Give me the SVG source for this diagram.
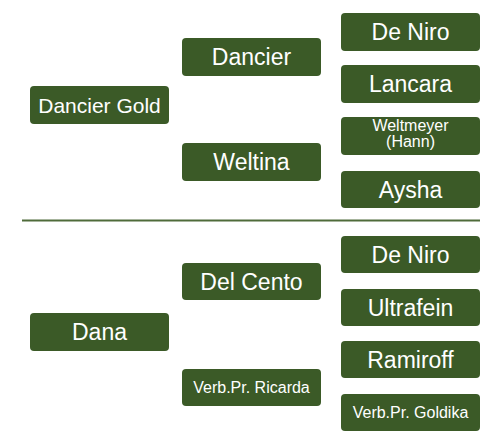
<svg xmlns="http://www.w3.org/2000/svg" width="493" height="443" viewBox="0 0 493 443">
<style>
.box{fill:#3B5A27}
text{font-family:"Liberation Sans",Arial,sans-serif;fill:#ffffff;text-anchor:middle}
.big{font-size:23px}
.mid{font-size:21px}
.sm{font-size:16px}
.sep{stroke:#4F6B3A;stroke-width:2;fill:none}
</style>
<rect width="493" height="443" fill="#ffffff"/>
<g id="connectors">
<line class="sep" x1="22" y1="220.5" x2="480" y2="220.5"/>
</g>
<g id="dancier-gold"><rect class="box" x="30" y="86" width="139" height="38" rx="4"/><text class="mid" x="99.5" y="112.5">Dancier Gold</text></g>
<g id="dancier"><rect class="box" x="182" y="38" width="139" height="38" rx="4"/><text class="big" x="251.5" y="65">Dancier</text></g>
<g id="weltina"><rect class="box" x="182" y="143" width="139" height="38" rx="4"/><text class="big" x="251.5" y="170">Weltina</text></g>
<g id="de-niro-1"><rect class="box" x="341" y="13" width="139" height="38" rx="4"/><text class="big" x="410.5" y="40">De Niro</text></g>
<g id="lancara"><rect class="box" x="341" y="65" width="139" height="38" rx="4"/><text class="big" x="410.5" y="92">Lancara</text></g>
<g id="weltmeyer"><rect class="box" x="341" y="117" width="139" height="38" rx="4"/><text class="sm" x="410.5" y="131">Weltmeyer</text><text class="sm" x="410.5" y="147">(Hann)</text></g>
<g id="aysha"><rect class="box" x="341" y="171" width="139" height="37" rx="4"/><text class="big" x="410.5" y="197.5">Aysha</text></g>
<g id="dana"><rect class="box" x="30" y="313" width="139" height="38" rx="4"/><text class="big" x="99.5" y="340">Dana</text></g>
<g id="del-cento"><rect class="box" x="182" y="263" width="139" height="37" rx="4"/><text class="big" x="251.5" y="289.5">Del Cento</text></g>
<g id="ricarda"><rect class="box" x="182" y="369" width="139" height="37" rx="4"/><text class="sm" x="251.5" y="393">Verb.Pr. Ricarda</text></g>
<g id="de-niro-2"><rect class="box" x="341" y="236" width="139" height="37" rx="4"/><text class="big" x="410.5" y="262.5">De Niro</text></g>
<g id="ultrafein"><rect class="box" x="341" y="289" width="139" height="37" rx="4"/><text class="big" x="410.5" y="315.5">Ultrafein</text></g>
<g id="ramiroff"><rect class="box" x="341" y="341" width="139" height="37" rx="4"/><text class="big" x="410.5" y="367.5">Ramiroff</text></g>
<g id="goldika"><rect class="box" x="341" y="394" width="139" height="37" rx="4"/><text class="sm" x="410.5" y="418">Verb.Pr. Goldika</text></g>
</svg>
